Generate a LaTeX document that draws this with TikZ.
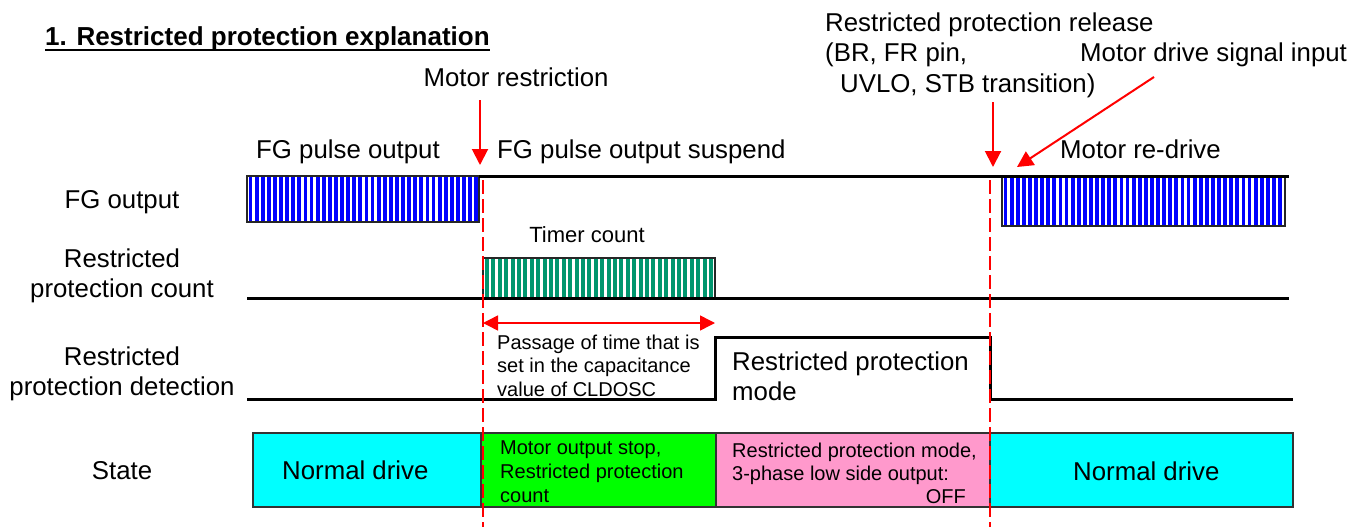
\documentclass[tikz,border=0pt]{standalone}
\usepackage{fontspec}
\setmainfont{Liberation Sans}
\usepackage{tikz}
\usetikzlibrary{arrows.meta,positioning,calc}
\definecolor{fgblue}{RGB}{0,0,255}
\definecolor{timergreen}{RGB}{0,150,110}
\definecolor{normalcyan}{RGB}{0,255,255}
\definecolor{stopgreen}{RGB}{0,255,0}
\definecolor{modepink}{RGB}{255,153,204}
\tikzset{
    signal/.style={black,line width=3pt,line join=miter},
    hatchbox/.style={draw=black!85,line width=2pt},
    fgstripe/.style={fgblue,line width=3.8pt},
    timerstripe/.style={timergreen,line width=3.9pt},
    statebox/.style={draw=black!80,line width=2pt},
    event line/.style={red,line width=2pt,dash pattern=on 14pt off 5pt},
    redarr/.style={-{Triangle[length=16pt,width=16pt]},red,line width=2pt},
    span arrow/.style={{Triangle[length=15pt,width=15pt]}-{Triangle[length=15pt,width=15pt]},red,line width=1.5pt},
    big text/.style={font={\fontsize{25.8}{30.5}\selectfont}},
    small text/.style={font={\fontsize{20}{23.8}\selectfont}},
    row label/.style={big text,align=center},
}
\tikzstyle{every node}=[inner sep=0pt,big text]

\begin{document}
\begin{tikzpicture}[x=1pt,y=-1pt]
    \useasboundingbox (0,0) rectangle (1352,527);
    % heading
    \node[anchor=base west,font={\bfseries\fontsize{26}{30.5}\selectfont}] (title) at (45,46) {1. Restricted protection explanation};
    \draw[line width=2pt] ([yshift=-4pt]title.base west) -- ([yshift=-4pt]title.base east);

    % row labels
    \node[row label,anchor=base] (fglbl) at (122,208) {FG output};
    \node[row label,anchor=north] (cntlbl) at (122,248.5) {Restricted\\protection count};
    \node[row label,anchor=north] (detlbl) at (122,346.5) {Restricted\\protection detection};
    \node[row label,anchor=base] (statelbl) at (122,479) {State};

    % events
    \node[anchor=base] (motrestr) at (516,87) {Motor restriction};
    \node[anchor=base] (fgpulse) at (348,158) {FG pulse output};
    \node[anchor=base west] (fgsusp) at (497,158) {FG pulse output suspend};
    \node[anchor=north west,align=left] (release) at (825,12.5) {Restricted protection release\\(BR, FR pin,\\\hspace*{15pt}UVLO, STB transition)};
    \node[anchor=base west] (drivesig) at (1080,62) {Motor drive signal input};
    \node[anchor=base west] (redrive) at (1060,158) {Motor re-drive};

    \coordinate (mrtop) at (480,100);
    \coordinate (mrtip) at (480,165);
    \coordinate (reltop) at (993,102);
    \coordinate (reltip) at (993,167);
    \coordinate (dstail) at (1154,77);
    \coordinate (dstip) at (1017,167);
    \draw[redarr] (mrtop) -- (mrtip);
    \draw[redarr] (reltop) -- (reltip);
    \draw[redarr] (dstail) -- (dstip);

    % FG output
    \foreach \i in {0,...,37}{
        \draw[fgstripe] ({250.5+\i*6.1},176) -- +(0,46);
    }
    \foreach \i in {0,...,45}{
        \draw[fgstripe] ({1005.5+\i*6.1},177) -- +(0,49);
    }
    \draw[hatchbox] (247,176) rectangle (479,222);
    \draw[hatchbox] (1002,177) rectangle (1285,226);
    \draw[signal] (479,176) -- (1289,176);

    % restricted protection count
    \foreach \i in {0,...,35}{
        \draw[timerstripe] ({487+\i*6.4},258) -- +(0,40);
    }
    \draw[hatchbox] (483,258) rectangle (715,298);
    \draw[signal] (247,298) -- (1289,298);
    \node[font={\fontsize{22}{26}\selectfont},anchor=base] (timer) at (587,242) {Timer count};

    % restricted protection detection
    \draw[signal] (247,399) -- (715,399) -- (715,337) -- (990,337) -- (990,399) -- (1293,399);
    \coordinate (pstart) at (483,323);
    \coordinate (pend) at (715,323);
    \draw[span arrow] (pstart) -- (pend);
    \node[small text,anchor=north west,align=left] (passage) at (497,334.5) {Passage of time that is\\set in the capacitance\\value of CLDOSC};
    \node[anchor=north west,align=left] (rpmode) at (732,351.5) {Restricted protection\\mode};

    % state
    \draw[statebox,fill=normalcyan] (253,433) rectangle (481,507);
    \draw[statebox,fill=stopgreen] (481,433) rectangle (716,507);
    \draw[statebox,fill=modepink] (716,433) rectangle (990,507);
    \draw[statebox,fill=normalcyan] (990,433) rectangle (1293,507);
    \node[anchor=base west] (normal1) at (282,479) {Normal drive};
    \node[small text,anchor=north west,align=left] (stopcnt) at (500,440.5) {Motor output stop,\\Restricted protection\\count};
    \node[small text,anchor=north west,align=left] (lowside) at (732,442.5) {Restricted protection mode,\\3-phase low side output:};
    \node[small text,anchor=base east] (off) at (966,503) {OFF};
    \node[anchor=base west] (normal2) at (1073,480) {Normal drive};

    \draw[event line] (483,180) -- (483,527);
    \draw[event line] (990,180) -- (990,527);
\end{tikzpicture}
\end{document}
